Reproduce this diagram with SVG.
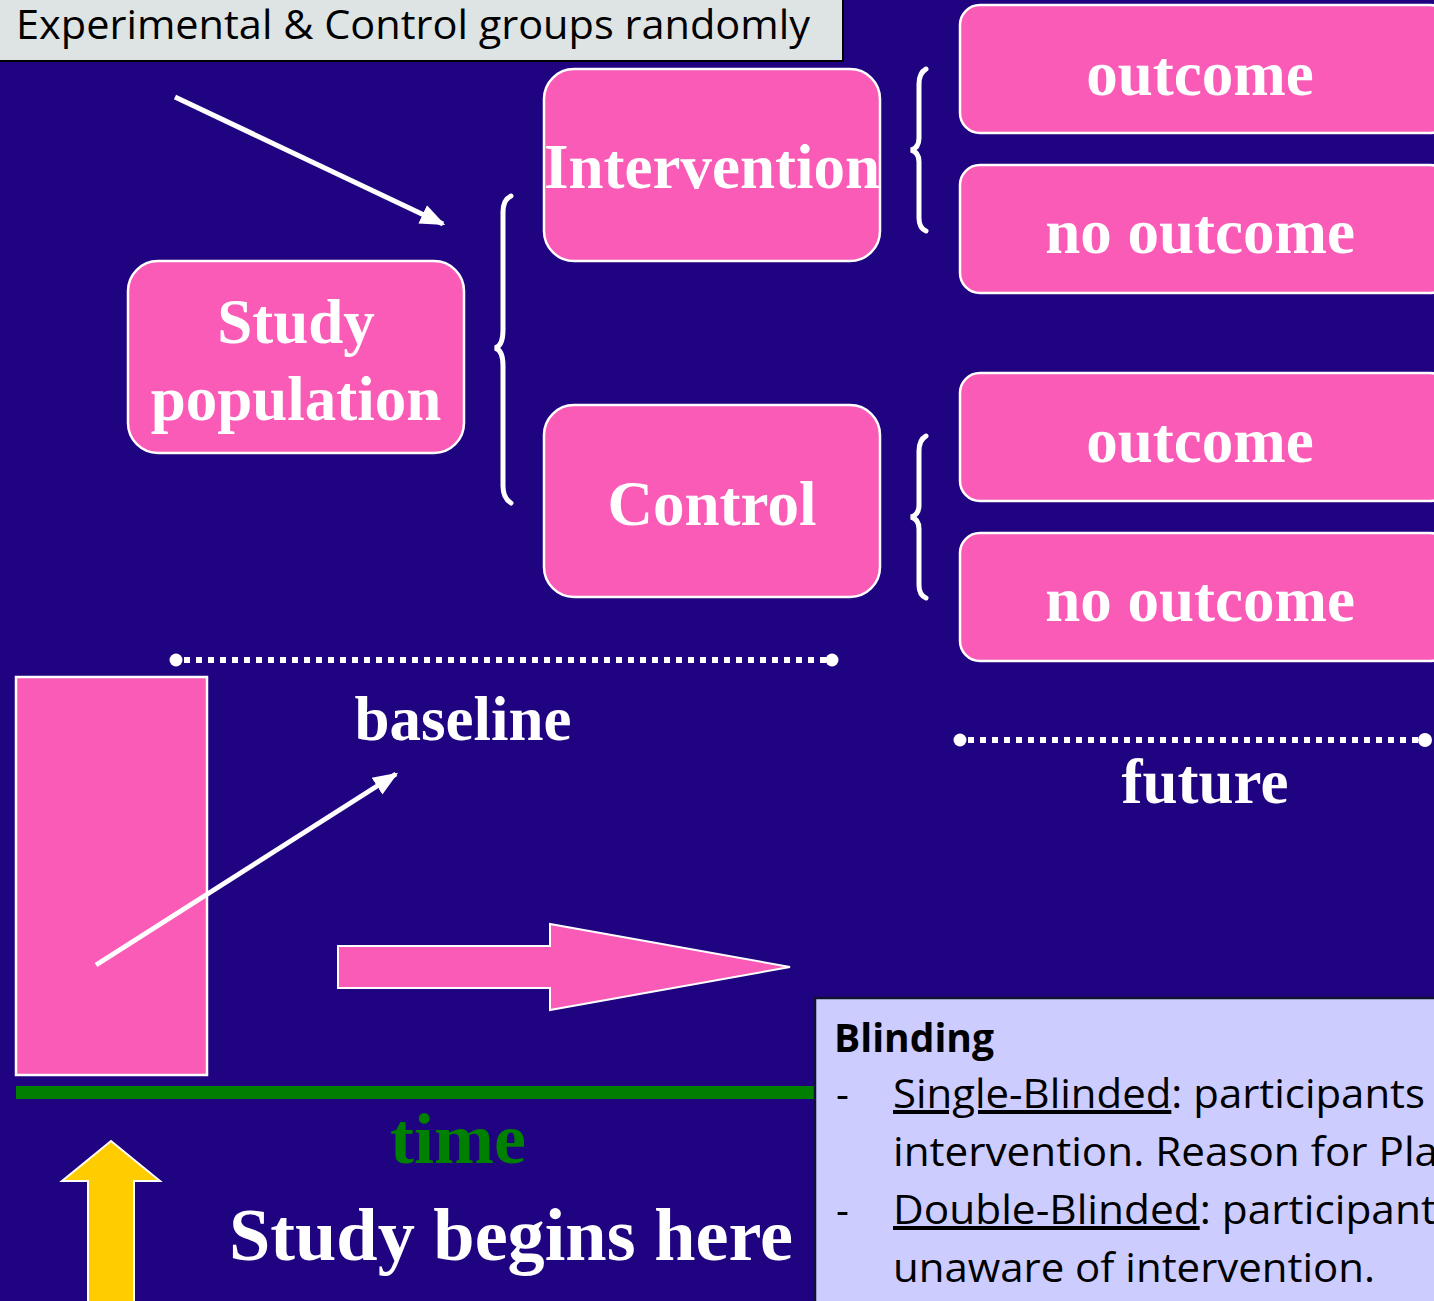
<svg xmlns="http://www.w3.org/2000/svg" width="1434" height="1301" viewBox="0 0 1434 1301">
<defs>
<style>
.box{fill:#f95bb6;stroke:#ffffff;stroke-width:2.5}
.t{font-family:"Liberation Serif","Times New Roman",serif;font-weight:bold;font-size:63px;fill:#ffffff;text-anchor:middle}
.brace{fill:none;stroke:#ffffff;stroke-width:5;stroke-linecap:round}
.dots{stroke:#ffffff;stroke-width:6;stroke-dasharray:6 6}
.c{font-family:"Open Sans","Liberation Sans",sans-serif;font-size:40px;fill:#000000}
</style>
<marker id="ah" viewBox="0 0 10 10" refX="9" refY="5" markerWidth="5" markerHeight="5" orient="auto" markerUnits="strokeWidth">
<path d="M0,1 L10,5 L0,9 z" fill="#ffffff"/>
</marker>
</defs>
<rect x="0" y="0" width="1434" height="1301" fill="#1f0380"/>

<g id="title-label">
<rect x="-3" y="-3" width="846" height="64" fill="#dee3e3" stroke="#000000" stroke-width="2"/>
<text x="16" y="39" font-family="Open Sans,Liberation Sans,sans-serif" font-size="40" fill="#000000" textLength="794" lengthAdjust="spacingAndGlyphs">Experimental &amp; Control groups randomly</text>
</g>

<g id="study-population">
<rect class="box" x="128" y="261" width="336" height="192" rx="30"/>
<text class="t" x="296" y="343">Study</text>
<text class="t" x="296" y="420">population</text>
</g>

<g id="intervention">
<rect class="box" x="544" y="69" width="336" height="192" rx="30"/>
<text class="t" x="712" y="188">Intervention</text>
</g>

<g id="control">
<rect class="box" x="544" y="405" width="336" height="192" rx="30"/>
<text class="t" x="712" y="525">Control</text>
</g>

<g id="outcome-1">
<rect class="box" x="960" y="5" width="490" height="128" rx="20"/>
<text class="t" x="1200" y="95">outcome</text>
</g>
<g id="no-outcome-1">
<rect class="box" x="960" y="165" width="490" height="128" rx="20"/>
<text class="t" x="1200" y="253">no outcome</text>
</g>
<g id="outcome-2">
<rect class="box" x="960" y="373" width="490" height="128" rx="20"/>
<text class="t" x="1200" y="462">outcome</text>
</g>
<g id="no-outcome-2">
<rect class="box" x="960" y="533" width="490" height="128" rx="20"/>
<text class="t" x="1200" y="621">no outcome</text>
</g>

<g id="baseline-line">
<line class="dots" x1="184" y1="660" x2="826" y2="660"/>
<circle cx="176" cy="660" r="6.5" fill="#ffffff"/>
<circle cx="832" cy="660" r="6.5" fill="#ffffff"/>
<text class="t" x="463" y="740">baseline</text>
</g>

<g id="future-line">
<line class="dots" x1="968" y1="740" x2="1418" y2="740"/>
<circle cx="960" cy="740" r="6.5" fill="#ffffff"/>
<circle cx="1425" cy="740" r="7" fill="#ffffff"/>
<text class="t" x="1205" y="803">future</text>
</g>

<g id="pink-column">
<rect x="16" y="677" width="191" height="398" fill="#f95bb6" stroke="#ffffff" stroke-width="2.5"/>
</g>

<g id="block-arrow">
<path d="M338,946 L550,946 L550,924 L790,967 L550,1010 L550,988 L338,988 Z" fill="#f95bb6" stroke="#ffffff" stroke-width="2"/>
</g>

<g id="connectors">
<line x1="175" y1="97" x2="443" y2="224" stroke="#ffffff" stroke-width="5" marker-end="url(#ah)"/>
<path class="brace" d="M511,196 Q503,200 503,212 L503,330 Q503,346 495,348 Q503,350 503,366 L503,486 Q503,498 511,503"/>
<path class="brace" d="M926,69 Q919,73 919,84 L919,138 Q919,148 911,150 Q919,152 919,162 L919,218 Q919,228 926,231"/>
<path class="brace" d="M926,436 Q919,440 919,451 L919,505 Q919,515 911,517 Q919,519 919,529 L919,585 Q919,595 926,598"/>
<line x1="96" y1="965" x2="396" y2="774" stroke="#ffffff" stroke-width="5" marker-end="url(#ah)"/>
</g>

<g id="timeline">
<rect x="16" y="1086" width="800" height="13" fill="#007f00"/>
<text x="458" y="1163" font-family="Liberation Serif,Times New Roman,serif" font-weight="bold" font-size="72" fill="#008000" text-anchor="middle">time</text>
</g>

<g id="start-arrow">
<path d="M88,1305 L88,1181 L62,1181 L111,1141 L160,1181 L134,1181 L134,1305 Z" fill="#ffcc00" stroke="#ffffff" stroke-width="2"/>
<text x="511" y="1260" font-family="Liberation Serif,Times New Roman,serif" font-weight="bold" font-size="74" fill="#ffffff" text-anchor="middle" textLength="564" lengthAdjust="spacingAndGlyphs">Study begins here</text>
</g>

<g id="blinding">
<rect x="815" y="998" width="630" height="320" fill="#ccccff" stroke="#111133" stroke-width="2.5"/>
<text class="c" x="834" y="1052" font-weight="bold" textLength="160" lengthAdjust="spacingAndGlyphs">Blinding</text>
<text class="c" x="836" y="1108">-</text>
<text class="c" x="893" y="1108" textLength="532" lengthAdjust="spacingAndGlyphs"><tspan text-decoration="underline">Single-Blinded</tspan>: participants</text>
<text class="c" x="893" y="1166" textLength="545" lengthAdjust="spacingAndGlyphs">intervention. Reason for Pla</text>
<text class="c" x="836" y="1224">-</text>
<text class="c" x="893" y="1224" textLength="543" lengthAdjust="spacingAndGlyphs"><tspan text-decoration="underline">Double-Blinded</tspan>: participant</text>
<text class="c" x="893" y="1282" textLength="482" lengthAdjust="spacingAndGlyphs">unaware of intervention.</text>
</g>
</svg>
